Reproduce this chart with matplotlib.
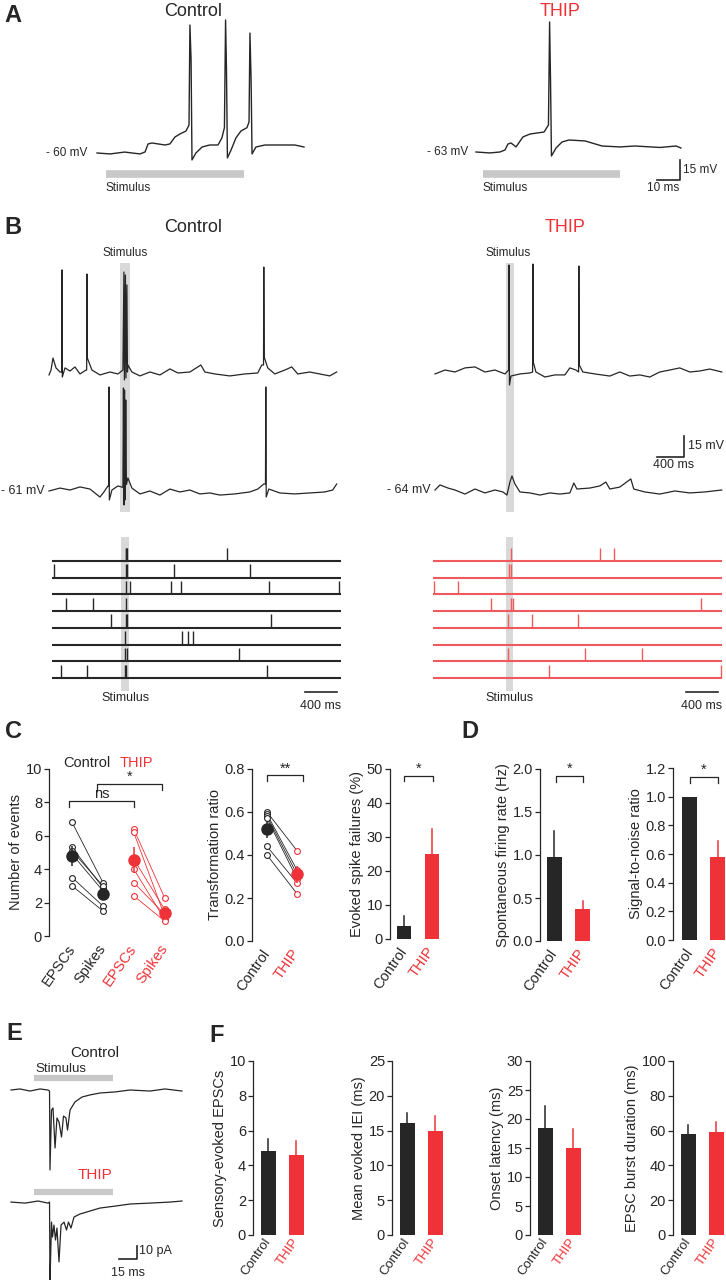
import matplotlib
matplotlib.use('Agg')
import matplotlib.pyplot as plt
from matplotlib.ticker import FormatStrFormatter

plt.rcParams['font.family'] = ['Liberation Sans', 'DejaVu Sans']

W, H = 726, 1280
BLACK = '#262626'
RED = '#ee3237'
STIM = '#c8c8c8'
COLUMN = '#d9d9d9'

# ---- A: single sweeps (ms, mV)
a_ctrl_t = [0, 5.7, 12, 18.7, 20.9, 22.2, 23.9, 29.6, 31.7, 33.9, 36.1, 38.7, 40, 40.4, 40.9, 41.3, 43, 45.7, 49, 52.6,
            54.3, 55.4, 55.9, 56.3, 56.7, 58.3, 60.4, 62.6, 65.2, 66.1, 66.5, 67, 67.4, 69.1, 73, 79.6, 86, 90]
a_ctrl_v = [-60, -60.7, -59.3, -60.7, -59.2, -53.2, -52.5, -54, -53.2, -48, -45.7, -43.5, -39, 36, 10, -65.2, -60, -55.5, -54, -54,
            -48.7, -41, 39.8, 2, -63.7, -57.7, -48.7, -43.5, -41, -36.7, 30, -5, -60.7, -55.5, -54, -54, -54, -55.5]
a_thip_t = [0, 6, 10.4, 12.6, 13.9, 15.2, 17.4, 20.4, 23.5, 29.6, 31.5, 32, 32.4, 32.8, 34.8, 37.4, 40.4, 47.4, 54.8, 62.6,
            69.1, 80, 87, 89.1]
a_thip_v = [-63, -63.7, -63, -61.5, -57, -56.2, -59.2, -51.7, -49.5, -48, -42.7, 34.5, -9, -66, -60, -55.5, -54, -54.7, -58.5, -59.2,
            -58.5, -59.6, -58.5, -60]
a_stim_ctrl = [3.9, 63.9]
a_stim_thip = [3.0, 62.6]

# ---- B: longer sweeps (ms, mV)
b_ctrl_top_t = [0, 30, 59, 104, 163, 188, 192, 197, 237, 311, 385, 459, 548, 558, 562, 568, 636, 755, 903, 1021,
                1095, 1110, 1117, 1132, 1140, 1154, 1162, 1169, 1228, 1347, 1495, 1643, 1791, 1909, 2087, 2250, 2309, 2457, 2679, 2901,
                3093, 3152, 3178, 3182, 3188, 3241, 3345, 3493, 3596, 3685, 3863, 4011, 4159, 4262]
b_ctrl_top_v = [-62.4, -58.9, -50.3, -57.4, -60.3, -60.3, 12.6, -63.9, -57.4, -59.6, -56.7, -61.7, -58.9, -58.9, 9.7, -50.3, -58.9, -62.4, -60.3, -61.7,
                -58.9, 11.1, -66, 9, -64.6, 1.9, -60.3, -55.3, -60.3, -63.1, -60.3, -62.4, -58.1, -61, -60.3, -55.3, -60.3, -61.7, -63.1, -61.7,
                -61, -55.3, -55.3, 14.7, -49.6, -57.4, -61.7, -58.9, -56.7, -61.7, -60.3, -61.7, -63.1, -60.3]
b_ctrl_bot_t = [0, 163, 311, 459, 607, 755, 814, 873, 884, 888, 894, 932, 1021, 1095, 1103, 1110, 1119, 1128, 1137, 1147,
                1169, 1228, 1347, 1495, 1643, 1791, 1939, 2087, 2235, 2383, 2531, 2753, 2975, 3093, 3182, 3207, 3212, 3218, 3256, 3419,
                3641, 3863, 4085, 4203, 4262]
b_ctrl_bot_v = [-61, -58.9, -60.3, -58.1, -59.6, -65.3, -61.7, -57.4, -57.4, 13.3, -67.4, -60.3, -57.4, -58.4, 12.6, -71, 11.1, -67.4, 4, -56.4,
                -51.7, -58.9, -63.1, -61, -63.9, -59.6, -61.7, -60.3, -63.1, -62.4, -63.9, -63.1, -61.7, -59.6, -56, -56, 13.3, -65.3, -59.6, -62.4,
                -63.1, -62.4, -61.7, -60.3, -56]
b_thip_top_t = [0, 148, 296, 444, 592, 740, 888, 1036, 1091, 1095, 1103, 1125, 1258, 1406, 1446, 1450, 1456, 1495, 1628, 1776,
                1924, 1998, 2087, 2127, 2131, 2137, 2190, 2368, 2590, 2738, 2886, 3034, 3182, 3330, 3478, 3626, 3774, 3922, 4070, 4248]
b_thip_top_v = [-65.4, -62.6, -64, -61.1, -60.4, -64, -62.6, -65.4, -62.6, 12.4, -73.3, -66.9, -65.4, -64.7, -64, 13.1, -56.9, -64, -67.6, -66.1,
                -66.1, -61.1, -62.6, -64, 11.7, -59, -64, -65.4, -66.9, -64, -66.9, -66.1, -67.6, -64, -62.6, -61.1, -64, -63.3, -61.9, -64]
b_thip_bot_t = [0, 74, 192, 296, 444, 592, 740, 888, 1006, 1066, 1110, 1140, 1184, 1258, 1406, 1554, 1702, 1850, 1998, 2057,
                2102, 2294, 2442, 2531, 2590, 2738, 2901, 2945, 3108, 3330, 3552, 3774, 3996, 4248]
b_thip_bot_v = [-64, -60.4, -62.6, -64, -66.9, -63.3, -66.1, -64, -65.4, -67.6, -58.3, -54, -59.7, -65.4, -66.1, -67.6, -66.1, -66.9, -66.1, -59,
                -63.3, -62.6, -61.1, -58.3, -63.3, -61.9, -56.1, -63.3, -65.4, -66.9, -64.7, -66.1, -65.4, -64]
b_stim_ctrl = [1051, 1199]
b_stim_thip = [1051, 1169]

# raster: spike times per trial (ms)
ctrl_raster = [
    [920, 930, 940, 2188],
    [25, 920, 935, 1525, 2475],
    [925, 975, 1488, 1612, 2712, 3588],
    [175, 512, 925],
    [738, 920, 935, 2738],
    [912, 1625, 1700, 1762],
    [912, 935, 2338],
    [112, 438, 912, 930, 2688],
]
thip_raster = [
    [975, 2088, 2262],
    [955, 970],
    [12, 312],
    [725, 980, 995, 3350],
    [938, 1238, 1812],
    [],
    [938, 1900, 2612],
    [1450, 3600],
]
raster_len = 3612
raster_stim_ctrl = [862, 962]
raster_stim_thip = [912, 1000]

# ---- C
c_groups = ['EPSCs', 'Spikes', 'EPSCs', 'Spikes']
c_ctrl_epsc = [6.8, 5.3, 5.1, 4.9, 3.5, 3.0]
c_ctrl_spk = [3.2, 2.9, 3.0, 2.7, 1.8, 1.5]
c_thip_epsc = [6.4, 6.2, 4.6, 4.0, 3.2, 2.4]
c_thip_spk = [2.3, 1.2, 1.6, 1.0, 1.3, 0.9]
c_mean = [4.8, 2.5, 4.55, 1.4]
c_sem = [0.6, 0.3, 0.75, 0.25]

tr_ctrl = [0.60, 0.59, 0.58, 0.57, 0.44, 0.40]
tr_thip = [0.42, 0.33, 0.31, 0.29, 0.27, 0.22]
tr_mean = [0.52, 0.31]
tr_sem = [0.04, 0.04]

conds = ['Control', 'THIP']
fail_mean, fail_sem = [3.8, 25.0], [3.0, 7.5]
# ---- D
spont_mean, spont_sem = [0.98, 0.37], [0.30, 0.10]
snr_mean, snr_sem = [1.0, 0.58], [0.0, 0.11]

# ---- E: EPSC bursts (ms, pA)
e_ctrl_t = [0, 7.5, 15.8, 24.2, 30.8, 32.1, 32.5, 33.75, 35, 36.7, 38.3, 40, 42.1, 43.75, 45.8, 47.1, 49.2, 53.3, 59.2, 65.8,
            74.2, 86.7, 99.2, 115.8, 128.3, 142.5]
e_ctrl_i = [0, 0.8, -0.8, 0.8, 0, -0.8, -61.5, -15.4, -13.8, -44.6, -21.5, -24.6, -36.2, -20, -21.5, -30.8, -15.4, -9.2, -5.4, -3.8,
            -2.3, -1.5, 0, -0.8, 0.8, -0.8]
e_thip_t = [0, 11.7, 22.5, 30.8, 32.1, 32.5, 33.75, 34.6, 35.8, 37.1, 38.3, 40, 41.7, 44.2, 46.25, 47.9, 50, 52.5, 57.5, 65.8,
            74.2, 86.7, 99.2, 115.8, 132.5, 142.5]
e_thip_i = [0, -0.8, 0.8, -0.8, 0, -61.5, -15.4, -26.9, -17.7, -29.2, -20, -46, -17.7, -15.4, -21.5, -15.4, -20, -11.5, -9.2, -6.9,
            -4.6, -3.1, -1.5, -0.8, 0, 0.8]
e_stim = [19.2, 85]

# ---- F
f_epsc_mean, f_epsc_sem = [4.8, 4.6], [0.7, 0.8]
f_iei_mean, f_iei_sem = [16.1, 14.9], [1.5, 2.2]
f_onset_mean, f_onset_sem = [18.4, 15.0], [3.8, 3.2]
f_burst_mean, f_burst_sem = [58, 59], [5, 6]


fig = plt.figure(figsize=(W / 100, H / 100), dpi=100)


def px_axes(x0, y0, x1, y1):
    return fig.add_axes([x0 / W, 1 - y1 / H, (x1 - x0) / W, (y1 - y0) / H])


def px_text(x, y, s, **kw):
    kw.setdefault('color', BLACK)
    fig.text(x / W, 1 - y / H, s, **kw)


def trace_axes(x0, y0, x1, y1, ox, oy, sx, sy, v0=0.0):
    ax = px_axes(x0, y0, x1, y1)
    ax.set_xlim((x0 - ox) / sx, (x1 - ox) / sx)
    ax.set_ylim(v0 + (oy - y1) / sy, v0 + (oy - y0) / sy)
    ax.axis('off')
    return ax


def style_axes(ax, ylim, yticks, ylabel, labels, colors, xlim, fmt=None, xsize=10.5, xpad=7):
    ax.set_xlim(*xlim)
    ax.set_ylim(*ylim)
    ax.set_yticks(yticks)
    if fmt:
        ax.yaxis.set_major_formatter(FormatStrFormatter(fmt))
    for s in ['top', 'right', 'bottom']:
        ax.spines[s].set_visible(False)
    ax.spines['left'].set_linewidth(0.9)
    ax.spines['left'].set_color(BLACK)
    ax.tick_params(axis='y', length=3.5, width=0.9, labelsize=10.5, pad=1.5, colors=BLACK)
    ax.set_xticks(range(len(labels)))
    ax.set_xticklabels(labels, rotation=55, ha='right', va='center',
                       rotation_mode='anchor', fontsize=xsize)
    ax.tick_params(axis='x', length=0, pad=xpad)
    for t, c in zip(ax.get_xticklabels(), colors):
        t.set_color(c)
    ax.set_ylabel(ylabel, fontsize=10.5, labelpad=2, color=BLACK)
    ax.patch.set_alpha(0)


def bracket(ax, x0, x1, y, h, text):
    ax.plot([x0, x0, x1, x1], [y - h, y, y, y - h], color=BLACK, lw=0.9, clip_on=False)
    ax.text((x0 + x1) / 2, y, text, ha='center', va='bottom', fontsize=10.5, color=BLACK)


def bar_pair(ax, means, sems):
    for xi, m, e, c in zip([0, 1], means, sems, [BLACK, RED]):
        ax.bar(xi, m, width=0.53, color=c)
        if e > 0:
            ax.plot([xi, xi], [m, m + e], color=c, lw=1.1)


# ================= A =================
px_text(13, 16, 'A', fontsize=17, fontweight='bold', ha='center', va='center')
px_text(193, 12, 'Control', fontsize=13, ha='center', va='center')
px_text(560, 12, 'THIP', fontsize=13, ha='center', va='center', color=RED)

ax = trace_axes(90, 0, 320, 200, 97, 153, 2.3, 1.333, -60)
ax.plot(a_ctrl_t, a_ctrl_v, color=BLACK, lw=1.0)
ax.plot(a_stim_ctrl, [-75.8, -75.8], color=STIM, lw=5.5, solid_capstyle='butt')
ax.text(a_stim_ctrl[0], -86, 'Stimulus', fontsize=8.5, color=BLACK, va='center', ha='left')
ax.text(-4, -60, '- 60 mV', fontsize=8.5, color=BLACK, va='center', ha='right')

ax = trace_axes(470, 0, 726, 200, 476, 152, 2.3, 1.333, -63)
ax.plot(a_thip_t, a_thip_v, color=BLACK, lw=1.0)
ax.plot(a_stim_thip, [-79.5, -79.5], color=STIM, lw=5.5, solid_capstyle='butt')
ax.text(a_stim_thip[0], -90, 'Stimulus', fontsize=8.5, color=BLACK, va='center', ha='left')
ax.text(-3.5, -63, '- 63 mV', fontsize=8.5, color=BLACK, va='center', ha='right')
ax.plot([78.7, 88.7, 88.7], [-84, -84, -69], color=BLACK, lw=1.2)
ax.text(90, -76.5, '15 mV', fontsize=8.5, color=BLACK, va='center', ha='left')
ax.text(74.5, -90, '10 ms', fontsize=8.5, color=BLACK, va='center', ha='left')

# ================= B =================
px_text(13, 228, 'B', fontsize=17, fontweight='bold', ha='center', va='center')
px_text(193, 228, 'Control', fontsize=13, ha='center', va='center')
px_text(565, 228, 'THIP', fontsize=13, ha='center', va='center', color=RED)
narrow = ['Liberation Sans Narrow', 'Liberation Sans', 'DejaVu Sans']
px_text(125, 253, 'Stimulus', fontsize=8.5, ha='center', va='center', family=narrow)
px_text(508, 253, 'Stimulus', fontsize=8.5, ha='center', va='center', family=narrow)

offset_b = 84.3
ax = trace_axes(40, 255, 345, 520, 49, 491, 0.0675, 1.4, -61)
ax.axvspan(*b_stim_ctrl, ymin=(520 - 512) / 265, ymax=(520 - 263) / 265, color=COLUMN, lw=0)
ax.plot(b_ctrl_top_t, [v + offset_b for v in b_ctrl_top_v], color=BLACK, lw=0.9)
ax.plot(b_ctrl_bot_t, b_ctrl_bot_v, color=BLACK, lw=0.9)
ax.text(-60, -61, '- 61 mV', fontsize=9, color=BLACK, va='center', ha='right', family=narrow)

ax = trace_axes(425, 255, 726, 520, 435, 490, 0.0675, 1.4, -64)
ax.axvspan(*b_stim_thip, ymin=(520 - 512) / 265, ymax=(520 - 263) / 265, color=COLUMN, lw=0)
ax.plot(b_thip_top_t, [v + offset_b for v in b_thip_top_v], color=BLACK, lw=0.9)
ax.plot(b_thip_bot_t, b_thip_bot_v, color=BLACK, lw=0.9)
ax.text(-60, -64, '- 64 mV', fontsize=9, color=BLACK, va='center', ha='right', family=narrow)
ax.plot([3286, 3686, 3686], [-40.4, -40.4, -25.4], color=BLACK, lw=1.2)
ax.text(3750, -32.5, '15 mV', fontsize=9, color=BLACK, va='center', ha='left', family=narrow)
ax.text(3537, -46.5, '400 ms', fontsize=9, color=BLACK, va='center', ha='center', family=narrow)

# raster plots
for raster, x0, x1, ox, col, stim, cx in [
        (ctrl_raster, 45, 350, 52, BLACK, raster_stim_ctrl, 125),
        (thip_raster, 425, 726, 433, '#f05a5c', raster_stim_thip, 509)]:
    ax = trace_axes(x0, 535, x1, 715, ox, 561, 0.08, 16.7, 0)
    ax.axvspan(*stim, ymin=(715 - 691) / 180, ymax=(715 - 537) / 180, color=COLUMN, lw=0)
    for i, spikes in enumerate(raster):
        ax.plot([0, raster_len], [-i, -i], color=col, lw=1.5, solid_capstyle='butt')
        ax.vlines(spikes, -i, -i + 0.8, color=col, lw=1.0)
    ax.plot([raster_len - 450, raster_len - 50], [-7.84, -7.84], color=BLACK, lw=1.2)
    ax.text(raster_len - 250, -8.35, '400 ms', fontsize=9, color=BLACK, ha='center', va='top')
    px_text(cx, 698, 'Stimulus', fontsize=9, ha='center', va='center')

# ================= C =================
px_text(14, 732, 'C', fontsize=17, fontweight='bold', ha='center', va='center')
px_text(470, 732, 'D', fontsize=17, fontweight='bold', ha='center', va='center')

ax = px_axes(49, 769, 180, 936)
for a, b in zip(c_ctrl_epsc, c_ctrl_spk):
    ax.plot([0, 1], [a, b], color=BLACK, lw=0.6)
for a, b in zip(c_thip_epsc, c_thip_spk):
    ax.plot([2, 3], [a, b], color=RED, lw=0.6)
for xi, vals, c in [(0, c_ctrl_epsc, BLACK), (1, c_ctrl_spk, BLACK), (2, c_thip_epsc, RED), (3, c_thip_spk, RED)]:
    ax.plot([xi] * len(vals), vals, 'o', ms=4.2, mfc='white', mec=c, mew=0.8, zorder=3)
for xi, m, e, c in zip(range(4), c_mean, c_sem, [BLACK, BLACK, RED, RED]):
    ax.errorbar(xi, m, yerr=e, fmt='o', ms=8, color=c, ecolor=c, elinewidth=1.1, capsize=0, zorder=4)
style_axes(ax, (0, 10), [0, 2, 4, 6, 8, 10], 'Number of events', c_groups,
           [BLACK, BLACK, RED, RED], (-0.75, 3.5))
bracket(ax, -0.1, 2.0, 8.1, 0.35, 'ns')
bracket(ax, 0.8, 2.9, 9.1, 0.35, '*')
px_text(63, 763, 'Control', fontsize=10.5, ha='left', va='center')
px_text(120, 763, 'THIP', fontsize=10.5, ha='left', va='center', color=RED)

ax = px_axes(252, 769, 312, 941)
for a, b in zip(tr_ctrl, tr_thip):
    ax.plot([0, 1], [a, b], color=BLACK, lw=0.6)
ax.plot([0] * len(tr_ctrl), tr_ctrl, 'o', ms=4.2, mfc='white', mec=BLACK, mew=0.8, zorder=3)
ax.plot([1] * len(tr_thip), tr_thip, 'o', ms=4.2, mfc='white', mec=RED, mew=0.8, zorder=3)
for xi, m, e, c in zip([0, 1], tr_mean, tr_sem, [BLACK, RED]):
    ax.errorbar(xi, m, yerr=e, fmt='o', ms=8, color=c, ecolor=c, elinewidth=1.1, capsize=0, zorder=4)
style_axes(ax, (0, 0.8), [0, 0.2, 0.4, 0.6, 0.8], 'Transformation ratio', conds,
           [BLACK, RED], (-0.5, 1.5), '%.1f')
bracket(ax, 0, 1.2, 0.77, 0.028, '**')

ax = px_axes(390, 769, 446, 939)
bar_pair(ax, fail_mean, fail_sem)
style_axes(ax, (0, 50), [0, 10, 20, 30, 40, 50], 'Evoked spike failures (%)', conds,
           [BLACK, RED], (-0.5, 1.5))
bracket(ax, 0, 1.05, 48, 1.6, '*')

# ================= D =================
ax = px_axes(540, 769, 597, 941)
bar_pair(ax, spont_mean, spont_sem)
style_axes(ax, (0, 2.0), [0, 0.5, 1.0, 1.5, 2.0], 'Spontaneous firing rate (Hz)', conds,
           [BLACK, RED], (-0.5, 1.5), '%.1f')
bracket(ax, 0.05, 1.0, 1.92, 0.07, '*')

ax = px_axes(673, 768, 726, 940)
bar_pair(ax, snr_mean, snr_sem)
style_axes(ax, (0, 1.2), [0, 0.2, 0.4, 0.6, 0.8, 1.0, 1.2], 'Signal-to-noise ratio', conds,
           [BLACK, RED], (-0.6, 1.29), '%.1f')
bracket(ax, 0, 1.0, 1.14, 0.045, '*')

# ================= E =================
px_text(14, 1033, 'E', fontsize=17, fontweight='bold', ha='center', va='center')
px_text(95, 1053, 'Control', fontsize=11, ha='center', va='center')
px_text(35, 1069, 'Stimulus', fontsize=9.5, ha='left', va='center')
px_text(95, 1175, 'THIP', fontsize=11, ha='center', va='center', color=RED)

offset_e = -86.2
ax = trace_axes(5, 1040, 195, 1280, 11, 1090, 1.2, 1.3, 0)
ax.plot(e_stim, [9.2, 9.2], color=STIM, lw=4.5, solid_capstyle='butt')
ax.plot(e_stim, [7.7 + offset_e, 7.7 + offset_e], color=STIM, lw=4.5, solid_capstyle='butt')
ax.plot(e_ctrl_t, e_ctrl_i, color=BLACK, lw=0.9)
ax.plot(e_thip_t, [i + offset_e for i in e_thip_i], color=BLACK, lw=0.9)
ax.plot([90, 105, 105], [-130, -130, -120], color=BLACK, lw=1.2)
ax.text(107, -124, '10 pA', fontsize=9, color=BLACK, va='center', ha='left')
ax.text(97.5, -136, '15 ms', fontsize=9, color=BLACK, va='top', ha='center')

# ================= F =================
px_text(217, 1036, 'F', fontsize=17, fontweight='bold', ha='center', va='center')

f_panels = [
    (253, 309, (-0.55, 1.45), f_epsc_mean, f_epsc_sem, (0, 10), [0, 2, 4, 6, 8, 10], 'Sensory-evoked EPSCs'),
    (392, 448, (-0.55, 1.45), f_iei_mean, f_iei_sem, (0, 25), [0, 5, 10, 15, 20, 25], 'Mean evoked IEI (ms)'),
    (530, 586, (-0.55, 1.45), f_onset_mean, f_onset_sem, (0, 30), [0, 5, 10, 15, 20, 25, 30], 'Onset latency (ms)'),
    (673, 726, (-0.55, 1.34), f_burst_mean, f_burst_sem, (0, 100), [0, 20, 40, 60, 80, 100], 'EPSC burst duration (ms)'),
]
for x0, x1, xl, m, e, yl, yt, lab in f_panels:
    ax = px_axes(x0, 1061, x1, 1235)
    bar_pair(ax, m, e)
    style_axes(ax, yl, yt, lab, conds, [BLACK, RED], xl, xsize=9.5, xpad=3)

fig.savefig('out.png', dpi=100)
